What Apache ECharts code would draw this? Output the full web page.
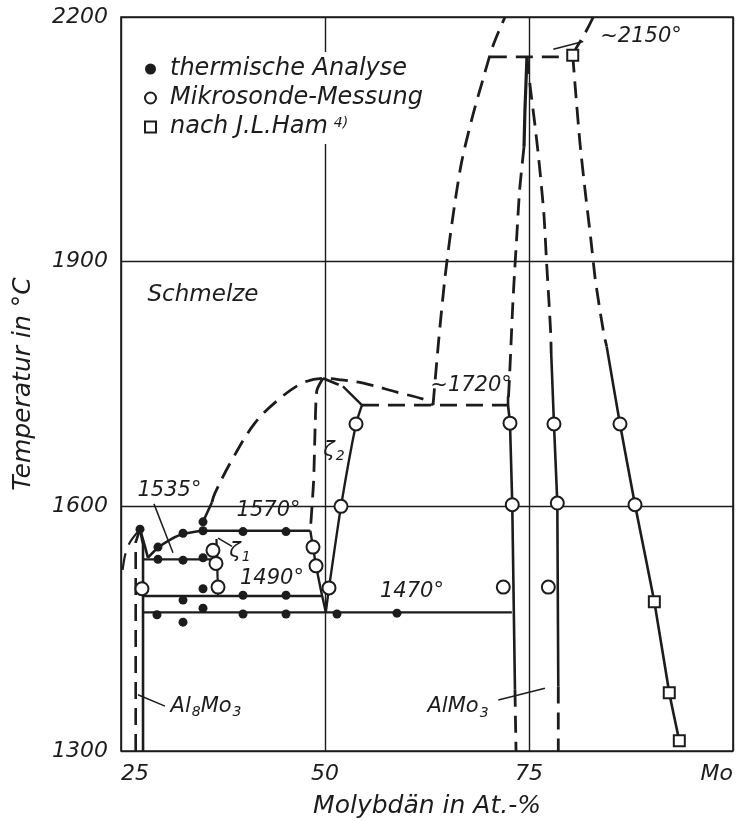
<!DOCTYPE html>
<html><head><meta charset="utf-8">
<script src="https://cdn.jsdelivr.net/npm/echarts@6/dist/echarts.min.js"></script>
<style>html,body{margin:0;padding:0;background:#fff}#c{width:745px;height:821px}</style>
</head><body><div id="c"></div>
<script>
// ---------- axes ----------
const xTickValues = [25, 50, 75, 100];
const xTickLabels = ['25', '50', '75', 'Mo'];
const yTickValues = [1300, 1600, 1900, 2200];

// ---------- measured points [Mo at.-%, °C] ----------
const thermischeAnalyse = [
  [27.33,1572],[29.53,1550],[32.60,1567],[35.05,1581],[35.05,1570],[39.95,1569],[45.22,1569],
  [29.53,1535],[32.60,1534],[35.05,1537],
  [35.05,1499],[32.60,1485],[39.95,1491],[45.22,1491],
  [29.41,1467],[35.05,1475],[39.95,1468],[45.22,1468],[51.47,1468],[58.82,1469],
  [32.60,1458]
];
const mikrosonde = [
  [27.57,1499],[36.27,1546],[36.64,1530],[36.89,1501],
  [48.53,1550],[48.90,1527],[50.49,1500],[51.96,1600],[53.80,1701],
  [71.85,1501],[72.67,1702],[72.95,1602],
  [77.37,1501],[78.06,1701],[78.47,1604],
  [86.15,1701],[87.99,1602]
];
const hamPoints = [[80.36,2153],[90.36,1483],[92.19,1371.5],[93.42,1312.6]];

// ---------- phase boundaries ----------
const al8mo3Dashed = [[26.8,1300],[26.8,1556],[27.33,1572]];
const al8mo3Solid = [[27.33,1572],[27.7,1553],[27.7,1300]];
const liquidusAlSide = [[25.2,1522],[25.5,1540],[26.1,1556],[27.33,1572]];
const liquidusPeakToEut = [[27.33,1572],[27.9,1552],[28.3,1537]];
const liquidusEutToPerit = [[28.3,1537],[29.5,1549],[31.0,1559],[32.6,1566],[35.05,1570]];
const line1535 = [[27.7,1535],[36.8,1535]];
const line1570 = [[35.05,1570],[48.2,1570]];
const zeta1Boundary = [[36.7,1560],[36.9,1490]];
const line1490 = [[27.7,1490],[49.6,1490]];
const line1470 = [[27.7,1470],[72.9,1470]];
const zeta2LeftDashed = [[49.75,1757],[49.0,1742],[48.8,1700],[48.6,1630],[48.2,1570]];
const zeta2LeftSolid = [[48.2,1570],[48.53,1550],[48.9,1527],[49.5,1497],[50.1,1470]];
const zeta2RightSolid = [[54.53,1724],[53.8,1701],[51.96,1600],[50.49,1500],[50.1,1470]];
const zeta2TopDashed = [[49.75,1757],[52.2,1747]];
const zeta2TopSolid = [[52.2,1747],[54.53,1724]];
const domeStart = [[35.05,1581],[36.15,1605]];
const domeLiquidus = [[36.15,1605],[36.5,1616],[38.6,1657],[41.4,1702],[44.2,1730],[47.2,1751],[49.7,1757],[52.0,1755],[54.7,1751],[58.8,1740],[62.5,1730],[63.24,1724]];
const line1720 = [[54.53,1724],[72.43,1724]];
const liquidusUpper = [[63.24,1724],[63.9,1800],[64.7,1880],[65.6,1950],[66.7,2020],[68.0,2075],[69.4,2125],[70.6,2165],[72.06,2200]];
const line2150 = [[70.2,2151],[80.36,2151]];
const alMo3LeftTop = [[74.75,2151],[74.5,2085],[74.39,2041]];
const alMo3LeftDashed = [[74.39,2041],[73.85,1988],[73.5,1931],[73.25,1890],[73.0,1845],[72.8,1800],[72.62,1760],[72.43,1724]];
const alMo3LeftSolid = [[72.43,1735],[72.43,1724],[72.67,1702],[72.95,1602],[73.28,1375]];
const alMo3LeftBottom = [[73.28,1375],[73.41,1300]];
const alMo3RightDashed = [[74.75,2151],[75.2,2110],[75.7,2070],[76.1,2035],[76.5,1995],[76.85,1955],[77.15,1900],[77.45,1850],[77.66,1812],[77.72,1788]];
const alMo3RightSolid = [[77.72,1788],[78.06,1701],[78.47,1604],[78.59,1379]];
const alMo3RightBottom = [[78.59,1379],[78.59,1300]];
const moLiquidusTop = [[82.88,2200],[81.86,2180],[80.85,2163],[80.36,2153]];
const moSolidusDashed = [[80.36,2153],[80.7,2110],[81.25,2045],[81.9,1985],[82.55,1930],[83.1,1880],[83.7,1840],[84.2,1810],[84.52,1796]];
const moSolidusSolid = [[84.52,1796],[86.15,1701],[87.99,1602],[90.36,1483],[92.19,1371.5],[93.42,1312.6]];

// ---------- leaders ----------
const leader1535 = [[29.04,1603],[31.37,1543]];
const leaderZeta1 = [[36.9,1561],[38.6,1551]];
const leaderAl8Mo3 = [[27.08,1369],[30.39,1355]];
const leaderAlMo3 = [[71.24,1362.5],[76.96,1377]];
const leader2150 = [[77.98,2160.5],[81.65,2170]];

// ---------- annotations ----------
const annotationTexts = ['Schmelze','1535°','1570°','1490°','1470°','~1720°','~2150°','ζ{s|1}','ζ{s|2}','Al{s|8}Mo{s|3}','AlMo{s|3}'];
const annotationAt = [[35.05,1859],[30.94,1619],[43.08,1595],[43.5,1512],[60.66,1496],[67.9,1748],[88.73,2176],[39.58,1545],[51.1,1669],[35.42,1355],[66.3,1354]];

const INK = '#1c1c1c';
const FONT = 'DejaVu Sans';

function ln(data, dashed, width, smooth) {
  return {
    type: 'line', data: data, symbol: 'none', silent: true, animation: false,
    smooth: smooth || false, z: 3, legendHoverLink: false,
    lineStyle: { color: INK, width: width || 2.4, type: dashed ? [17, 9] : 'solid', cap: 'butt', join: 'round', opacity: 1 }
  };
}

const series = [
  ln(al8mo3Dashed, true, 2.6),
  ln(al8mo3Solid, false, 2.6),
  ln(liquidusAlSide, true, 2.2, 0.3),
  ln(liquidusPeakToEut, false, 2.6),
  ln(liquidusEutToPerit, false, 2.6, 0.3),
  ln(line1535, false, 2.4),
  ln(line1570, false, 2.4),
  ln(zeta1Boundary, false, 2.2),
  ln(line1490, false, 2.4),
  ln(line1470, false, 2.4),
  ln(zeta2LeftDashed, true, 2.8, 0.2),
  ln(zeta2LeftSolid, false, 2.4),
  ln(zeta2RightSolid, false, 2.4, 0.2),
  ln(zeta2TopDashed, true, 2.8),
  ln(zeta2TopSolid, false, 2.4),
  ln(domeStart, false, 2.6),
  ln(domeLiquidus, true, 2.8, 0.35),
  ln(line1720, true, 2.8),
  ln(liquidusUpper, true, 2.8, 0.3),
  ln(line2150, true, 2.8),
  ln(alMo3LeftTop, false, 3.2),
  ln(alMo3LeftDashed, true, 2.8, 0.2),
  ln(alMo3LeftSolid, false, 2.6),
  ln(alMo3LeftBottom, true, 2.8),
  ln(alMo3RightDashed, true, 2.8, 0.2),
  ln(alMo3RightSolid, false, 2.6),
  ln(alMo3RightBottom, true, 2.8),
  ln(moLiquidusTop, true, 2.8, 0.4),
  ln(moSolidusDashed, true, 2.8, 0.2),
  ln(moSolidusSolid, false, 2.6, 0.15),
  ln(leader1535, false, 1.5),
  ln(leaderZeta1, false, 1.5),
  ln(leaderAl8Mo3, false, 1.5),
  ln(leaderAlMo3, false, 1.5),
  ln(leader2150, false, 1.5),
  {
    name: 'thermische Analyse', type: 'scatter', data: thermischeAnalyse, symbol: 'circle', symbolSize: 9,
    itemStyle: { color: INK, opacity: 1 }, z: 6, animation: false, silent: true
  },
  {
    name: 'Mikrosonde-Messung', type: 'scatter', data: mikrosonde, symbol: 'circle', symbolSize: 13,
    itemStyle: { color: '#fff', borderColor: INK, borderWidth: 2, opacity: 1 }, z: 7, animation: false, silent: true
  },
  {
    name: 'nach J.L.Ham', type: 'scatter', data: hamPoints, symbol: 'rect', symbolSize: 11,
    itemStyle: { color: '#fff', borderColor: INK, borderWidth: 2, opacity: 1 }, z: 7, animation: false, silent: true
  },
  {
    type: 'scatter', symbolSize: 1, silent: true, animation: false, z: 8,
    itemStyle: { color: 'rgba(0,0,0,0)', opacity: 1 },
    data: annotationAt.map((p, i) => ({
      value: p,
      label: { formatter: () => annotationTexts[i], fontSize: i === 0 ? 23 : 21 }
    })),
    label: {
      show: true, position: 'inside', color: INK, opacity: 1, fontFamily: FONT, fontStyle: 'italic', fontSize: 21,
      rich: { s: { fontSize: 14, fontFamily: FONT, fontStyle: 'italic', color: INK, padding: [12, 0, 0, 1] } }
    }
  }
];

const chart = echarts.init(document.getElementById('c'), null, { renderer: 'canvas' });
chart.setOption({
  backgroundColor: '#fff',
  animation: false,
  grid: { left: 121, right: 12, top: 17, bottom: 70, show: true, borderColor: INK, borderWidth: 1.6, outerBoundsMode: 'none' },
  legend: {
    data: ['thermische Analyse', 'Mikrosonde-Messung', 'nach J.L.Ham'],
    orient: 'vertical', left: 140, top: 52, padding: [5, 12, 5, 4],
    itemGap: 5, itemWidth: 11, itemHeight: 11, backgroundColor: '#fff',
    selectedMode: false, inactiveColor: INK,
    formatter: function (name) {
      if (name === 'nach J.L.Ham') return '{t|nach J.L.Ham}{sup|4)}';
      return '{t|' + name + '}';
    },
    textStyle: {
      color: INK, fontFamily: FONT, fontStyle: 'italic', fontSize: 24,
      rich: {
        t: { color: INK, fontFamily: FONT, fontStyle: 'italic', fontSize: 24, padding: [0, 0, 0, 9] },
        sup: { color: INK, fontFamily: FONT, fontStyle: 'italic', fontSize: 14, padding: [0, 0, 8, 6] }
      }
    }
  },
  xAxis: {
    type: 'value', min: xTickValues[0], max: xTickValues[xTickValues.length - 1], interval: 25,
    name: 'Molybdän in At.-%', nameLocation: 'middle', nameGap: 43,
    nameTextStyle: { color: INK, fontFamily: FONT, fontStyle: 'italic', fontSize: 25 },
    axisLine: { show: false }, axisTick: { show: false },
    axisLabel: {
      color: INK, fontFamily: FONT, fontStyle: 'italic', fontSize: 22, margin: 12,
      alignMinLabel: 'left', alignMaxLabel: 'right',
      formatter: v => { const k = xTickValues.indexOf(v); return k >= 0 ? xTickLabels[k] : ''; }
    },
    splitLine: { show: true, lineStyle: { color: INK, width: 1.4 } }
  },
  yAxis: {
    type: 'value', min: yTickValues[0], max: yTickValues[yTickValues.length - 1], interval: 300,
    name: 'Temperatur in °C', nameLocation: 'middle', nameGap: 85, nameRotate: 90,
    nameTextStyle: { color: INK, fontFamily: FONT, fontStyle: 'italic', fontSize: 25 },
    axisLine: { show: false }, axisTick: { show: false },
    axisLabel: { color: INK, fontFamily: FONT, fontStyle: 'italic', fontSize: 22, margin: 13, formatter: v => String(v) },
    splitLine: { show: true, lineStyle: { color: INK, width: 1.4 } }
  },
  series: series
});
</script></body></html>
